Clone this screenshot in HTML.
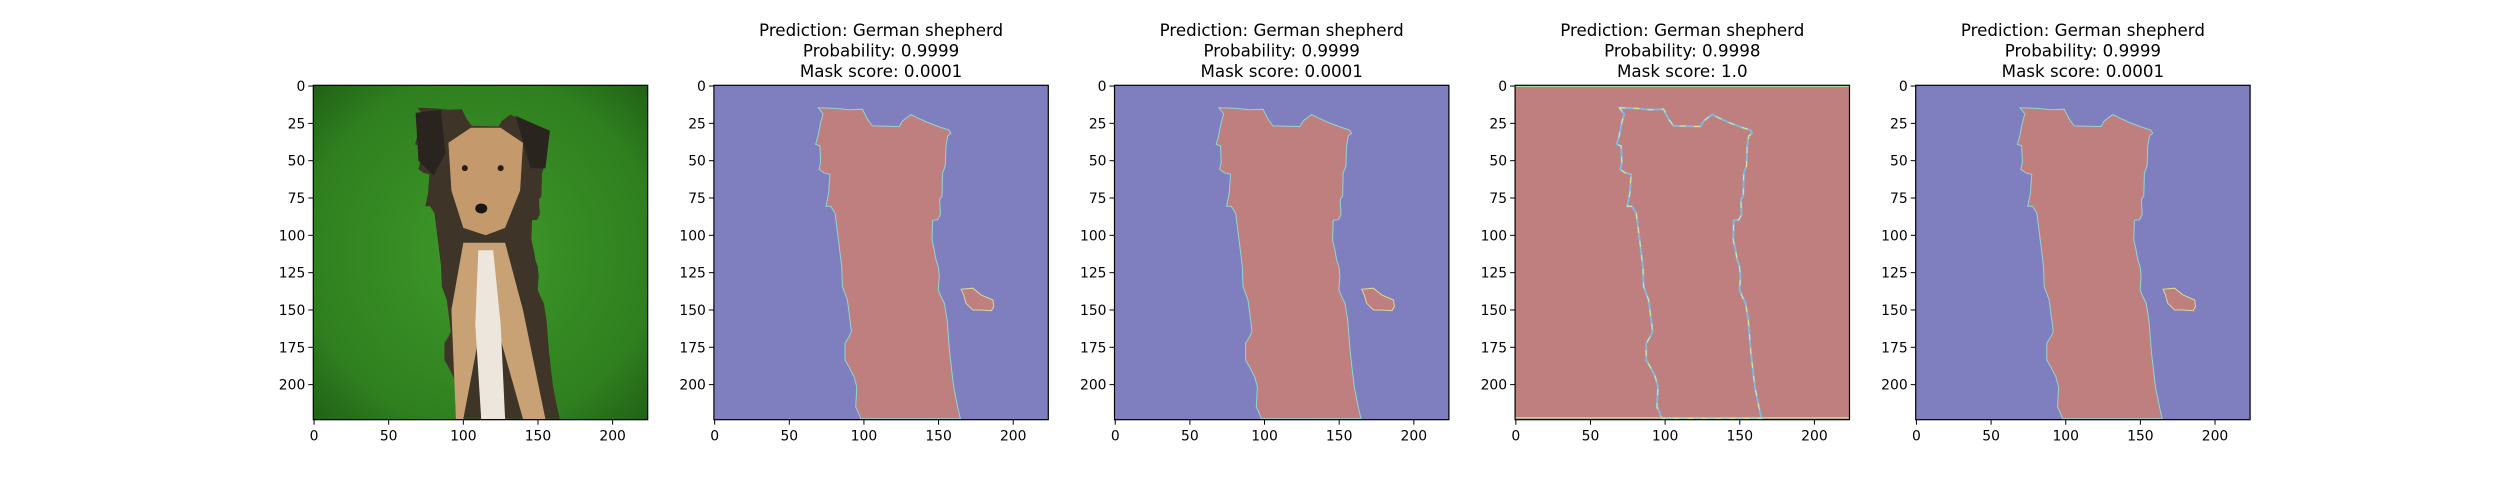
<!DOCTYPE html>
<html><head><meta charset="utf-8"><style>
html,body{margin:0;padding:0;background:#fff;}
svg{display:block;font-family:"DejaVu Sans","Liberation Sans",sans-serif;}
</style></head><body>
<svg id="fig" width="2500" height="500" viewBox="0 0 2500 500" xmlns="http://www.w3.org/2000/svg">
<defs><radialGradient id="grass" cx="0.5" cy="0.5" r="0.75"><stop offset="0" stop-color="#3f9a2a"/><stop offset="0.7" stop-color="#2f7f1f"/><stop offset="1" stop-color="#1d5a14"/></radialGradient></defs>
</svg>
<script>
const panelTitles = [
  null,
  ["Prediction: German shepherd","Probability: 0.9999","Mask score: 0.0001"],
  ["Prediction: German shepherd","Probability: 0.9999","Mask score: 0.0001"],
  ["Prediction: German shepherd","Probability: 0.9998","Mask score: 1.0"],
  ["Prediction: German shepherd","Probability: 0.9999","Mask score: 0.0001"]
];
const panelKinds = ["photo","mask","mask","inverse","mask"];
const xTicks = [0,50,100,150,200];
const yTicks = [0,25,50,75,100,125,150,175,200];
const maskOutline = [[69.4,14.6],[81.1,15.0],[90.0,15.9],[99.0,15.5],[102.4,22.2],[105.7,26.7],[123.6,27.1],[125.9,23.3],[131.5,19.1],[135.9,21.3],[142.7,24.4],[151.6,27.8],[156.8,29.4],[158.3,31.6],[156.1,33.4],[155.0,40.1],[154.5,53.6],[152.7,58.1],[152.3,73.8],[150.7,76.0],[151.2,86.1],[149.4,89.5],[146.0,89.9],[145.6,102.9],[147.1,109.6],[148.3,116.4],[149.8,120.9],[150.5,127.6],[149.8,136.5],[151.6,141.0],[153.9,145.5],[155.7,156.7],[157.4,178.0],[158.8,190.4],[160.1,201.6],[162.8,215.0],[164.6,222.9],[97.9,222.9],[95.6,217.3],[94.5,215.0],[95.2,201.6],[93.4,194.8],[90.0,188.1],[87.3,183.6],[87.3,172.4],[90.0,167.9],[91.6,164.6],[90.7,156.7],[88.9,143.3],[85.6,134.3],[85.1,120.9],[82.9,102.9],[80.6,85.0],[77.7,80.5],[74.6,80.5],[76.4,71.5],[76.8,64.8],[77.3,59.2],[73.2,58.1],[69.9,55.8],[71.0,51.3],[70.5,40.1],[67.6,39.0],[69.2,33.4],[71.0,24.4],[72.6,18.8]];
const maskBlob = [[165.1,136.1],[172.9,135.4],[178.5,139.9],[186.4,143.3],[187.0,147.8],[185.3,150.5],[178.5,150.0],[172.9,150.0],[168.4,145.5],[166.8,139.9]];
const dogFace = [[90,38],[105,28],[125,28],[140,38],[138,70],[128,95],[115,100],[100,95],[92,70]];
const dogTan = [[100,105],[128,105],[140,150],[155,223],[140,223],[125,170],[110,170],[100,223],[95,223],[92,150]];
const dogChest = [[110,110],[120,110],[125,160],[128,223],[112,223],[108,160]];

const svg = document.getElementById('fig');
const NS = 'http://www.w3.org/2000/svg';
const lefts = [313.3,713.9,1114.5,1515.1,1915.7];
const top0 = 85.3, size = 334.4, N = 224, s = size / N;
function mk(tag, attrs, parent){const e=document.createElementNS(NS,tag);for(const k in attrs)e.setAttribute(k,attrs[k]);(parent||svg).appendChild(e);return e;}
function ptsStr(pts, X, Y){return pts.map(p=>X(p[0]).toFixed(1)+','+Y(p[1]).toFixed(1)).join(' ');}

panelKinds.forEach((kind, i) => {
  const L = lefts[i];
  const X = v => L + (v + 0.5) * s;
  const Y = v => top0 + (v + 0.5) * s;
  const g = mk('g', {});
  
  
  const pts = ptsStr(maskOutline, X, Y), bpts = ptsStr(maskBlob, X, Y);
  if (kind === 'photo') {
    const bg = mk('rect', {x:L, y:top0, width:size, height:size, fill:'url(#grass)'}, g);
    
    
    const d = mk('polygon', {points: pts, fill:'#3e3428'}, g);
    
    
    mk('polygon', {points: ptsStr([[68,18],[85,16],[88,45],[80,60],[70,50]], X, Y), fill:'#2a241e'}, g);
    mk('polygon', {points: ptsStr([[135,20],[158,30],[155,55],[145,55]], X, Y), fill:'#2a241e'}, g);
    mk('polygon', {points: ptsStr(dogFace, X, Y), fill:'#c49a6c'}, g);
    mk('polygon', {points: ptsStr(dogTan, X, Y), fill:'#c8a274'}, g);
    mk('polygon', {points: ptsStr(dogChest, X, Y), fill:'#ece6dc'}, g);
    mk('ellipse', {cx:X(101), cy:Y(55), rx:3, ry:3, fill:'#2a1a10'}, g);
    mk('ellipse', {cx:X(125), cy:Y(55), rx:3, ry:3, fill:'#2a1a10'}, g);
    mk('ellipse', {cx:X(112), cy:Y(82), rx:6, ry:5, fill:'#1a1614'}, g);
  } else if (kind === 'mask') {
    const bg = mk('rect', {x:L, y:top0, width:size, height:size, fill:'#7f7fbf'}, g);
    
    
    const m = mk('polygon', {points: pts, fill:'#bf7f7f', stroke:'#8fd6d0', 'stroke-width':1}, g);
    
    
    const b = mk('polygon', {points: bpts, fill:'#bf7f7f', stroke:'#d9d98f', 'stroke-width':1}, g);
    
    
  } else {
    const bg = mk('rect', {x:L, y:top0, width:size, height:size, fill:'#bf7f7f'}, g);
    
    
    const o = mk('polygon', {points: pts, fill:'none', stroke:'#80b8e0', 'stroke-width':2}, g);
    
    
    mk('polygon', {points: pts, fill:'none', stroke:'#e6e68a', 'stroke-width':1, 'stroke-dasharray':'6 8'}, g);
    mk('line', {x1:L, x2:L+size, y1:top0+1, y2:top0+1, stroke:'#9ae09a', 'stroke-width':1.5}, g);
    mk('line', {x1:L, x2:L+size, y1:top0+size-2, y2:top0+size-2, stroke:'#9ae09a', 'stroke-width':1.5}, g);
  }
  const frame = mk('rect', {x:L, y:top0, width:size, height:size, fill:'none', stroke:'#000', 'stroke-width':1.2}, g);
  
  
  xTicks.forEach(t => {
    const x = X(t);
    mk('line', {x1:x, x2:x, y1:top0+size, y2:top0+size+5, stroke:'#000', 'stroke-width':1}, g);
    const tx = mk('text', {x:x, y:top0+size+21, 'font-size':13.9, 'text-anchor':'middle', fill:'#000'}, g);
    tx.textContent = t;
    
    
  });
  yTicks.forEach(t => {
    const y = Y(t);
    mk('line', {x1:L-5, x2:L, y1:y, y2:y, stroke:'#000', 'stroke-width':1}, g);
    const ty = mk('text', {x:L-8, y:y+5, 'font-size':13.9, 'text-anchor':'end', fill:'#000'}, g);
    ty.textContent = t;
    
    
  });
  const title = panelTitles[i];
  if (title) {
    title.forEach((line, j) => {
      const t = mk('text', {x:L+size/2, y:36+j*20.5, 'font-size':16.7, 'text-anchor':'middle', fill:'#000'}, g);
      t.textContent = line;
      
      
    });
  }
});
</script>
</body></html>
